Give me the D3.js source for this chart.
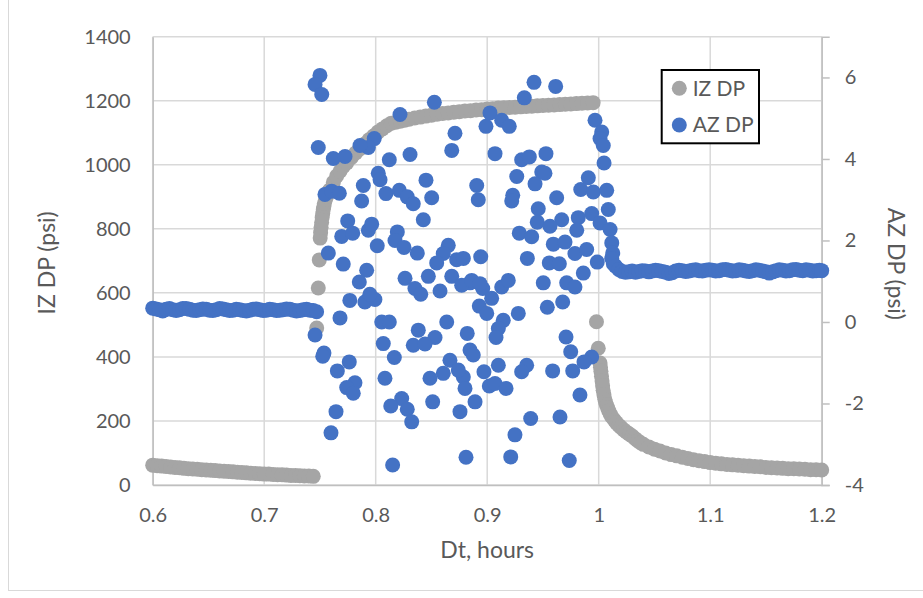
<!DOCTYPE html>
<html><head><meta charset="utf-8">
<script src="https://cdn.jsdelivr.net/npm/d3@7"></script>
<style>body{margin:0;background:#fff}svg{display:block}</style>
</head><body><svg id="c" width="923" height="598"></svg>
<script>
const xTicks=[0.6,0.7,0.8,0.9,1,1.1,1.2];
const xTickLabels=["0.6","0.7","0.8","0.9","1","1.1","1.2"];
const leftTicks=[0,200,400,600,800,1000,1200,1400];
const rightTicks=[-4,-2,0,2,4,6];
const seriesNames=["IZ DP","AZ DP"];
const seriesColors=["#A5A5A5","#4472C4"];

// IZ DP (psi), left axis
const izX=[0.600,0.604,0.608,0.612,0.616,0.620,0.624,0.628,0.632,0.636,0.640,0.644,0.648,0.652,0.656,0.660,0.664,0.668,0.672,0.676,0.680,0.684,0.688,0.692,0.696,0.700,0.704,0.708,0.712,0.716,0.720,0.724,0.728,0.732,0.736,0.740,0.744,
0.7471,0.7485,0.7494,0.7502,0.7506,0.751,0.7515,0.752,0.7525,0.753,0.7535,0.754,0.755,0.756,0.757,0.758,0.759,0.762,0.765,0.768,0.771,0.774,0.778,0.782,0.786,0.790,0.794,0.798,0.802,0.806,0.810,0.814,0.818,0.822,0.826,0.830,0.835,0.840,0.845,0.850,0.855,0.860,0.865,0.870,0.875,0.880,0.885,0.890,0.895,0.900,0.905,0.910,0.915,0.920,0.925,0.930,0.935,0.940,0.945,0.950,0.955,0.960,0.965,0.970,0.975,0.980,0.985,0.990,0.995,
0.998,0.9996,1.0012,1.0016,1.002,1.0025,1.003,1.0035,1.004,1.0047,1.0055,1.0062,1.007,1.008,1.009,1.0103,1.0117,1.014,1.016,1.018,1.020,1.0225,1.025,1.0275,1.030,1.0325,1.035,1.0375,1.040,1.045,1.050,1.055,1.060,1.065,1.070,1.075,1.080,1.085,1.090,1.095,1.100,1.105,1.110,1.115,1.120,1.125,1.130,1.135,1.140,1.145,1.150,1.155,1.160,1.165,1.170,1.175,1.180,1.185,1.190,1.195,1.200];
const izY=[62,60,59,58,56,55,54,52,51,50,49,48,47,46,45,44,43,42,41,40,39,38,37,36,35,34,34,33,32,32,31,30,30,29,28,28,27,
490,615,703,771,788,805,820,835,848,860,870,880,892,902,911,917,922,945,965,980,995,1006,1022,1037,1050,1065,1078,1090,1102,1112,1122,1130,1133,1136,1139,1142,1146,1149,1152,1155,1158,1160,1162,1164,1166,1168,1169,1171,1172,1174,1175,1177,1178,1179,1180,1181,1182,1183,1184,1185,1186,1187,1188,1189,1190,1191,1192,1193,1194,
510,427,381,368,355,340,325,310,296,282,268,258,250,241,232,222,213,203,194,186,180,172,165,159,153,145,138,132,127,119,112,106,100,95,91,87,83,79,76,73,70,68,66,64,63,62,60,59,58,57,55,54,53,52,51,51,50,49,48,48,47];

// AZ DP (psi), right axis
const azX=[0.600,0.603,0.606,0.609,0.612,0.615,0.618,0.621,0.624,0.627,0.630,0.633,0.636,0.639,0.642,0.645,0.648,0.651,0.654,0.657,0.660,0.663,0.666,0.669,0.672,0.675,0.678,0.681,0.684,0.687,0.690,0.693,0.696,0.699,0.702,0.705,0.708,0.711,0.714,0.717,0.720,0.723,0.726,0.729,0.732,0.735,0.738,0.741,0.744,0.747,
0.750,0.7456,0.7516,0.8526,0.8218,0.8711,0.8682,0.7987,0.7934,0.7859,0.7485,0.7620,0.7725,0.8308,0.8122,0.8023,0.8039,0.7889,0.8451,0.7545,0.7605,0.7674,0.7874,0.8092,0.8212,0.8283,0.8337,0.8502,0.8427,0.7749,0.7695,0.7794,0.7934,0.7964,0.8014,0.8194,0.8173,0.8254,0.8373,0.7575,0.7709,0.8651,0.8606,0.8547,0.8726,0.7919,
0.9420,0.9614,0.9333,0.9025,0.8989,0.9130,0.9198,0.9070,0.9309,0.9378,0.9527,0.9489,0.9265,0.9429,0.8906,0.8920,0.9229,0.9220,0.9623,0.9458,0.9967,1.0027,1.0012,1.0041,1.0048,0.9907,0.9839,0.9952,1.0072,1.0086,0.9937,0.9817,0.9668,0.9449,0.9563,0.9803,1.0012,1.0102,0.9288,0.9399,0.9593,0.9698,0.9787,0.9892,1.0117,1.0126,0.8786,0.8942,0.9360,0.9557,0.9647,0.9987,1.0131,0.9518,
0.7853,0.8263,0.8472,0.8682,0.8352,0.8404,0.8577,0.7768,0.7903,0.7993,0.7948,0.7680,0.7456,0.8054,0.8122,0.8637,0.8382,0.8532,0.8337,0.8442,0.8068,0.7536,0.7525,0.7763,0.8167,0.7656,0.8666,0.8606,0.8487,0.8083,0.7814,0.7740,0.7799,0.8233,0.8135,0.8283,0.8323,0.8511,0.7644,0.7599,0.8152,0.8756,
0.8846,0.8771,0.8960,0.9040,0.9130,0.9189,0.9503,0.9713,0.9787,0.9862,0.9539,0.9677,0.9279,0.8929,0.8996,0.9144,0.9100,0.9079,0.8821,0.8846,0.8875,0.9707,0.9749,0.9937,0.9868,0.9767,0.9587,0.9354,0.9309,0.9100,0.8971,0.9019,0.9070,0.9169,0.8786,0.8801,0.8891,0.9832,0.9390,0.9653,0.9249,0.8810,0.9211,0.9736,
0.8741,0.8861,0.8935,1.0117,
1.015,1.018,1.021,1.024,1.027,1.030,1.033,1.036,1.039,1.042,1.045,1.048,1.051,1.054,1.057,1.060,1.063,1.066,1.069,1.072,1.075,1.078,1.081,1.084,1.087,1.090,1.093,1.096,1.099,1.102,1.105,1.108,1.111,1.114,1.117,1.120,1.123,1.126,1.129,1.132,1.135,1.138,1.141,1.144,1.147,1.150,1.153,1.156,1.159,1.162,1.165,1.168,1.171,1.174,1.177,1.180,1.183,1.186,1.189,1.192,1.195,1.198,1.200];
const azY=[0.34,0.32,0.30,0.27,0.31,0.33,0.30,0.28,0.30,0.33,0.33,0.31,0.29,0.28,0.30,0.32,0.31,0.29,0.28,0.30,0.33,0.32,0.30,0.28,0.29,0.31,0.30,0.28,0.27,0.29,0.31,0.32,0.30,0.28,0.29,0.31,0.30,0.28,0.29,0.30,0.32,0.31,0.29,0.27,0.28,0.30,0.31,0.29,0.28,0.25,
6.05,5.83,5.58,5.39,5.09,4.63,4.21,4.50,4.28,4.33,4.28,4.01,4.06,4.11,3.98,3.65,3.49,3.35,3.48,3.13,3.21,3.16,2.97,3.15,3.23,3.07,2.90,3.05,2.51,2.48,2.10,2.18,2.25,2.40,1.87,2.21,2.00,1.83,1.69,1.69,1.42,1.88,1.68,1.45,1.53,1.27,
5.88,5.78,5.50,5.13,4.80,4.95,4.80,4.13,3.98,4.05,4.13,3.68,3.57,3.39,3.35,3.00,3.11,2.97,3.05,2.78,4.95,4.66,4.50,4.33,3.90,3.54,3.25,3.19,3.23,2.76,2.66,2.56,2.51,2.45,2.35,2.25,2.43,2.27,2.18,2.09,1.91,1.96,1.68,1.78,1.94,1.69,1.56,1.60,1.56,1.45,1.43,1.47,1.43,3.65,
0.98,1.07,1.12,1.12,0.82,0.68,0.76,0.53,0.49,0.55,0.68,0.10,-0.32,0.00,0.00,0.00,-0.20,-0.38,-0.57,-0.54,-0.53,-0.76,-0.84,-0.98,-0.87,-1.20,-0.94,-1.26,-1.38,-1.38,-1.49,-1.61,-1.75,-1.88,-2.06,-2.14,-2.45,-1.96,-2.20,-2.72,-3.51,-2.20,
0.96,0.90,0.82,0.58,0.86,1.02,0.96,0.96,0.86,1.20,0.36,0.49,0.21,0.39,0.21,0.04,-0.16,-0.38,-0.28,-0.69,-0.81,-0.37,-0.73,-0.86,-0.98,-1.20,-1.20,-1.06,-1.22,-1.06,-1.22,-1.57,-1.51,-1.63,-1.35,-1.63,-1.96,-1.79,-2.37,-2.33,-2.77,-3.32,-3.31,-3.40,
-1.18,1.02,0.94,1.56,
1.37,1.29,1.24,1.22,1.23,1.25,1.22,1.24,1.26,1.25,1.23,1.25,1.27,1.26,1.24,1.22,1.19,1.21,1.25,1.27,1.26,1.24,1.25,1.27,1.28,1.26,1.25,1.27,1.28,1.27,1.25,1.26,1.28,1.29,1.27,1.25,1.26,1.28,1.27,1.25,1.24,1.26,1.28,1.27,1.25,1.23,1.20,1.23,1.26,1.28,1.27,1.25,1.26,1.28,1.29,1.27,1.26,1.28,1.27,1.25,1.26,1.27,1.26];

const W=923,H=598;
const M={l:152.7,r:821.7,t:36.7,b:485};
const FONT="Lato, 'Liberation Sans', sans-serif";
const TXT="#595959";
const GRID="#D9D9D9";

const svg=d3.select("#c");
svg.append("rect").attr("width",W).attr("height",H).attr("fill","#fff");
// chart area border
svg.append("rect").attr("x",8.5).attr("y",-2).attr("width",W+4).attr("height",592.5)
  .attr("fill","none").attr("stroke","#D9D9D9").attr("stroke-width",1);

const x=d3.scaleLinear().domain([0.6,1.2]).range([M.l,M.r]);
const yL=d3.scaleLinear().domain([0,1400]).range([M.b,M.t]);
const yR=d3.scaleLinear().domain([-4,7]).range([M.b,M.t]);

// gridlines
const g=svg.append("g");
g.selectAll(".hg").data(leftTicks).join("line")
  .attr("x1",M.l).attr("x2",M.r).attr("y1",d=>yL(d)).attr("y2",d=>yL(d))
  .attr("stroke",GRID).attr("stroke-width",1.5);
g.selectAll(".vg").data(xTicks).join("line")
  .attr("y1",M.t).attr("y2",M.b).attr("x1",d=>x(d)).attr("x2",d=>x(d))
  .attr("stroke",GRID).attr("stroke-width",1.5);

// axes
const axL=svg.append("g").attr("transform",`translate(${M.l},0)`)
  .call(d3.axisLeft(yL).tickValues(leftTicks).tickSize(0).tickPadding(22).tickFormat(d3.format("d")));
const axB=svg.append("g").attr("transform",`translate(0,${M.b})`)
  .call(d3.axisBottom(x).tickValues(xTicks).tickSize(0).tickPadding(23).tickFormat((d,i)=>xTickLabels[i]));
const axR=svg.append("g").attr("transform",`translate(${M.r},0)`)
  .call(d3.axisRight(yR).tickValues(rightTicks).tickSize(8).tickPadding(15).tickFormat(d3.format("d")));
[axL,axB,axR].forEach(a=>{
  a.select(".domain").attr("stroke","#BFBFBF").attr("stroke-width",1.5);
  a.selectAll(".tick line").attr("stroke","#BFBFBF").attr("stroke-width",1.5);
  a.selectAll("text").attr("fill",TXT).style("font-family",FONT).style("font-size","20px");
});
axR.selectAll(".tick text").text(d=>d<0?"-"+Math.abs(d):d);

// series
const iz=izX.map((d,i)=>({x:d,y:izY[i]}));
const az=azX.map((d,i)=>({x:d,y:azY[i]}));
svg.append("g").selectAll("circle").data(iz).join("circle")
  .attr("cx",d=>x(d.x)).attr("cy",d=>yL(d.y)).attr("r",7.5).attr("fill",seriesColors[0]);
svg.append("g").selectAll("circle").data(az).join("circle")
  .attr("cx",d=>x(d.x)).attr("cy",d=>yR(d.y)).attr("r",7.5).attr("fill",seriesColors[1]);

// axis titles
svg.append("text").attr("transform",`translate(55,${(M.t+M.b)/2+2}) rotate(-90)`)
  .attr("text-anchor","middle").attr("fill",TXT).style("font-family",FONT).style("font-size","23px").text("IZ DP (psi)");
svg.append("text").attr("transform",`translate(888,${(M.t+M.b)/2+3}) rotate(90)`)
  .attr("text-anchor","middle").attr("fill",TXT).style("font-family",FONT).style("font-size","23px").text("AZ DP (psi)");
svg.append("text").attr("x",(M.l+M.r)/2).attr("y",558)
  .attr("text-anchor","middle").attr("fill",TXT).style("font-family",FONT).style("font-size","23px").text("Dt, hours");

// legend
const lg=svg.append("g");
lg.append("rect").attr("x",661.7).attr("y",70).attr("width",97.3).attr("height",73.3)
  .attr("fill","#fff").attr("stroke","#000").attr("stroke-width",2);
seriesNames.forEach((n,i)=>{
  const cy=88.3+i*36.7;
  lg.append("circle").attr("cx",679.3).attr("cy",cy).attr("r",7.5).attr("fill",seriesColors[i]);
  lg.append("text").attr("x",692.7).attr("y",cy).attr("dy","0.35em").attr("fill",TXT)
    .style("font-family",FONT).style("font-size","21px").text(n);
});
</script></body></html>
